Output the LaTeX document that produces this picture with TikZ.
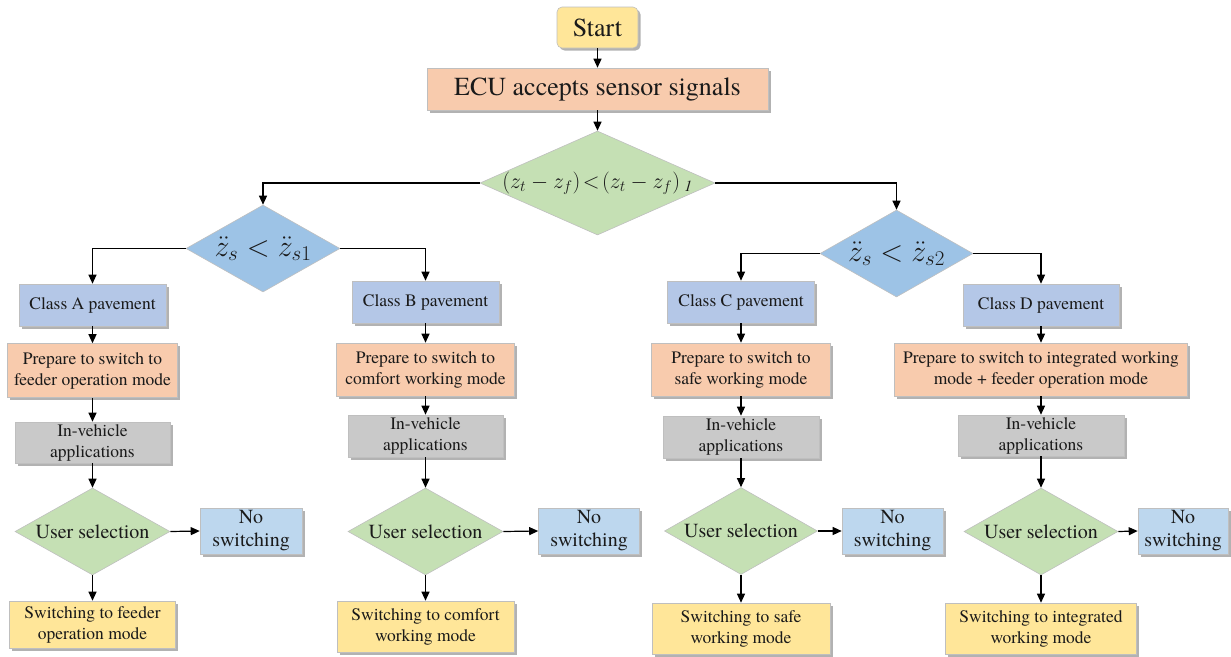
\RequirePackage{fix-cm}
\documentclass[tikz,border=0pt]{standalone}
\usepackage{fontspec}
\setmainfont{TeX Gyre Termes}
\usetikzlibrary{shapes.geometric,arrows.meta,shadows}

\definecolor{txt}{HTML}{1A1A1A}
\definecolor{yellowfill}{HTML}{FFE699}
\definecolor{peachfill}{HTML}{F8CBAD}
\definecolor{greenfill}{HTML}{C5E0B4}
\definecolor{bluefill}{HTML}{9DC3E6}
\definecolor{classfill}{HTML}{B4C7E7}
\definecolor{greyfill}{HTML}{C9C9C9}
\definecolor{skyfill}{HTML}{BDD7EE}
\definecolor{edgecol}{HTML}{BFBFBF}

\begin{document}
\begin{tikzpicture}[x=1pt,y=-1pt,
  sz/.style 2 args={minimum width=#1pt,minimum height=#2pt},
  box/.style={rectangle,draw=edgecol,line width=0.6pt,inner sep=0pt,align=center,text=txt,
    drop shadow={shadow xshift=2.5pt,shadow yshift=-2.5pt,opacity=0.3,fill=black}},
  smalltext/.style={font=\fontsize{17.5}{21}\selectfont},
  bigtext/.style={font=\fontsize{20}{23}\selectfont},
  startbox/.style={box,rounded corners=5pt,fill=yellowfill,font=\fontsize{26}{30}\selectfont},
  ecubox/.style={box,fill=peachfill,font=\fontsize{26}{30}\selectfont},
  classbox/.style={box,smalltext,fill=classfill},
  prepbox/.style={box,smalltext,fill=peachfill},
  appbox/.style={box,smalltext,fill=greyfill},
  noswbox/.style={box,bigtext,fill=skyfill},
  swbox/.style={box,smalltext,fill=yellowfill},
  dec/.style={shape=diamond,draw=edgecol,line width=0.6pt,inner sep=0pt,aspect=1.8,text=txt},
  userdec/.style={dec,fill=greenfill,bigtext},
  mathdec/.style={dec,fill=bluefill,font=\fontsize{30}{34}\selectfont},
  arr/.style={draw=black,line width=1.2pt,-{Triangle[length=9pt,width=8pt]}}
]
\useasboundingbox (0,0) rectangle (1231,656);

% trunk
\node[startbox,sz={81}{41}] (start) at (597.5,27.5) {Start};
\node[ecubox,sz={341}{42}] (ecu) at (597.5,89) {ECU accepts sensor signals};
\node[dec,fill=greenfill,sz={235}{104},font=\fontsize{22}{26}\selectfont] (d0) at (597.5,183)
  {\makebox[0pt]{$(z_t-z_f)\!<\!(z_t-z_f)_{\;\mathit{1}}$}};

% second-level decisions
\node[mathdec,sz={154}{87}] (d1) at (263,248.5)
  {\makebox[0pt]{$\ddot{z}_s<\ddot{z}_{s1}$}};
\node[mathdec,sz={153}{87}] (d2) at (896.5,253.5)
  {\makebox[0pt]{$\ddot{z}_s<\ddot{z}_{s2}$}};

% column A
\node[classbox,sz={147}{42}] (cA) at (92.5,305) {Class A pavement};
\node[prepbox,sz={170}{54}] (pA) at (92.5,370.5) {Prepare to switch to\\feeder operation mode};
\node[appbox,sz={155}{41}] (iA) at (92.5,442.5) {In-vehicle\\applications};
\node[userdec,sz={155}{87}] (uA) at (92.5,531.5) {\makebox[0pt]{User selection}};
\node[noswbox,sz={102}{46}] (nA) at (251,531) {No\\switching};
\node[swbox,sz={166}{47}] (sA) at (92.5,624.5) {Switching to feeder\\operation mode};

% column B
\node[classbox,sz={147}{42}] (cB) at (425.5,302) {Class B pavement};
\node[prepbox,sz={178}{53}] (pB) at (425.5,369.5) {Prepare to switch to\\comfort working mode};
\node[appbox,sz={155}{42}] (iB) at (425.5,436) {In-vehicle\\applications};
\node[userdec,sz={155}{87}] (uB) at (425.5,531.5) {\makebox[0pt]{User selection}};
\node[noswbox,sz={101}{46}] (nB) at (589,531) {No\\switching};
\node[swbox,sz={177}{51}] (sB) at (425.5,626.5) {Switching to comfort\\working mode};

% column C
\node[classbox,sz={147}{42}] (cC) at (741,302) {Class C pavement};
\node[prepbox,sz={179}{53}] (pC) at (741,369.5) {Prepare to switch to\\safe working mode};
\node[appbox,sz={156}{42}] (iC) at (741,437) {In-vehicle\\applications};
\node[userdec,sz={153}{87}] (uC) at (741,531) {\makebox[0pt]{User selection}};
\node[noswbox,sz={101}{46}] (nC) at (892.5,531) {No\\switching};
\node[swbox,sz={178}{51}] (sC) at (741,628.5) {Switching to safe\\working mode};

% column D
\node[classbox,sz={156}{42}] (cD) at (1041,305) {Class D pavement};
\node[prepbox,sz={293}{53}] (pD) at (1041,369.5) {Prepare to switch to integrated working\\mode + feeder operation mode};
\node[appbox,sz={166}{41}] (iD) at (1041,435.5) {In-vehicle\\applications};
\node[userdec,sz={154}{87}] (uD) at (1041,531.5) {\makebox[0pt]{User selection}};
\node[noswbox,sz={90}{46}] (nD) at (1183,531) {No\\switching};
\node[swbox,sz={191}{51}] (sD) at (1041,628.5) {Switching to integrated\\working mode};

% connectors
\draw[arr] (start) -- (ecu);
\draw[arr] (ecu) -- (d0);
\draw[arr] (d0.west) -| (d1.north);
\draw[arr] (d0.east) -| (d2.north);
\draw[arr] (d1.west) -| (cA.north);
\draw[arr] (d1.east) -| (cB.north);
\draw[arr] (d2.west) -| (cC.north);
\draw[arr] (d2.east) -| (cD.north);
\foreach \c in {A,B,C,D}{
  \draw[arr] (c\c) -- (p\c);
  \draw[arr] (p\c) -- (i\c);
  \draw[arr] (i\c) -- (u\c.north);
  \draw[arr] (u\c.south) -- (s\c);
  \draw[arr] (u\c.east) -- (n\c.west);
}
\end{tikzpicture}
\end{document}
